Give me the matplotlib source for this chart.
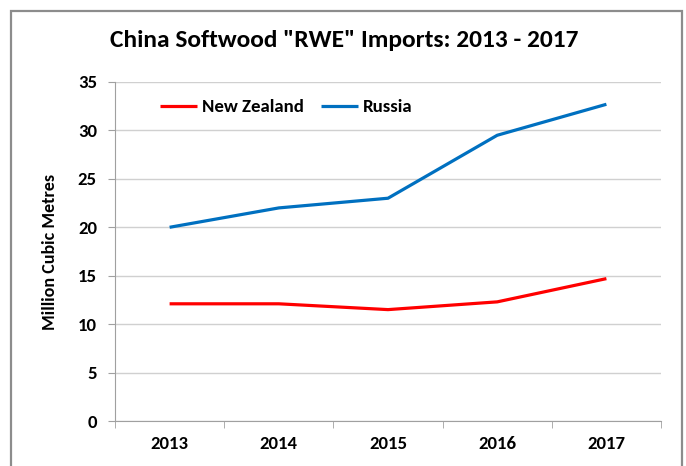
import matplotlib; matplotlib.use("Agg")
import matplotlib.pyplot as plt
from matplotlib.patches import Rectangle

years = ["2013", "2014", "2015", "2016", "2017"]
new_zealand = [12.1, 12.1, 11.5, 12.3, 14.7]
russia = [20.0, 22.0, 23.0, 29.5, 32.7]

plt.rcParams["font.family"] = ["Carlito", "DejaVu Sans"]
plt.rcParams["font.weight"] = "bold"

fig = plt.figure(figsize=(6.86, 4.66), dpi=100)
ax = fig.add_axes([115 / 686, 45 / 466, 546 / 686, 339 / 466])

x = list(range(len(years)))
ax.plot(x, new_zealand, color="#ff0000", lw=2.3, label="New Zealand", solid_capstyle="butt")
ax.plot(x, russia, color="#0070c0", lw=2.3, label="Russia", solid_capstyle="butt")

ax.set_xlim(-0.5, len(years) - 0.5)
ax.set_ylim(0, 35)
ax.set_yticks(range(0, 36, 5))
ax.set_xticks(x)
ax.set_xticklabels(years)
ax.set_xticks([i - 0.5 for i in range(len(years) + 1)], minor=True)
ax.tick_params(axis="x", which="major", length=0, pad=11, labelsize=13.5)
ax.tick_params(axis="x", which="minor", length=5, color="#a0a0a0", direction="out")
ax.tick_params(axis="y", length=5, color="#a0a0a0", labelsize=13.5, pad=8)
ax.grid(axis="y", color="#d0d0d0", lw=1)
ax.set_axisbelow(True)
for s in ["top", "right"]:
    ax.spines[s].set_visible(False)
for s in ["left", "bottom"]:
    ax.spines[s].set_color("#a0a0a0")
ax.set_ylabel("Million Cubic Metres", fontsize=13, fontweight="bold", labelpad=14)

ax.legend(loc="center left", bbox_to_anchor=(0.068, 0.925), ncol=2, frameon=False,
          prop={"size": 13.5, "weight": "bold"}, handlelength=2.0, handletextpad=0.25,
          columnspacing=0.9, borderaxespad=0)

fig.text(0.502, 0.913, 'China Softwood "RWE" Imports: 2013 - 2017', ha="center", va="center",
         fontsize=18.3, fontweight="bold")

fig.patches.append(Rectangle((11 / 686, -0.05), 671 / 686, 1.05 - 11 / 466, transform=fig.transFigure,
                             fill=False, edgecolor="#8c8c8c", lw=1.6))

fig.savefig("out.png", dpi=100)
